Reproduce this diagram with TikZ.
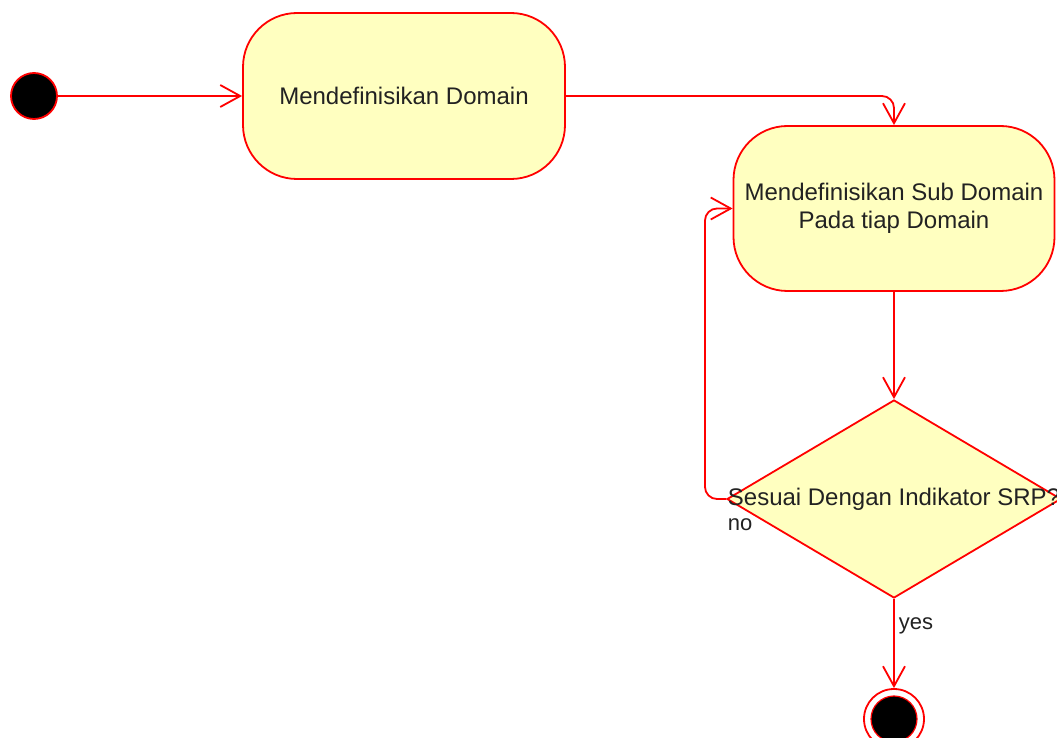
\documentclass[tikz,border=0pt]{standalone}
\usepackage{fontspec}
\setmainfont{Liberation Sans}
\usetikzlibrary{arrows.meta,shapes.geometric}
\definecolor{actfill}{HTML}{FFFFC0}
\definecolor{actline}{HTML}{FF0000}
\definecolor{txt}{HTML}{222222}
\begin{document}
\begin{tikzpicture}[x=0.5pt,y=-0.5pt,
  flow/.style={draw=actline,line width=0.9pt,-{Straight Barb[length=10pt,width=11pt,line width=0.9pt]}},
  action/.style={rectangle,draw=actline,fill=actfill,line width=0.9pt,rounded corners=27pt,
    inner sep=0pt,align=center,text=txt,font=\fontsize{12pt}{14pt}\selectfont},
  decision/.style={diamond,draw=actline,fill=actfill,line width=0.9pt,inner sep=0pt,
    minimum width=167pt,minimum height=99pt},
  guard/.style={text=txt,inner sep=0pt,font=\fontsize{11pt}{13pt}\selectfont},
  startnode/.style={circle,draw=actline,fill=black,line width=0.9pt,minimum size=23pt,inner sep=0pt}]
\clip (0,0) rectangle (1057,738);
\fill[white] (0,0) rectangle (1057,738);

% initial node
\node[startnode] (start) at (34,96) {};

% actions
\node[action,minimum width=161pt,minimum height=83pt] (b1) at (404,96) {Mendefinisikan Domain};
\node[action,minimum width=160.5pt,minimum height=82.5pt] (b2) at (894,208.5)
  {Mendefinisikan Sub Domain\\Pada tiap Domain};

% decision
\node[decision] (dec) at (894,499) {};
\node[text=txt,inner sep=0pt,font=\fontsize{12pt}{14pt}\selectfont] (dect) at (894,499) {Sesuai Dengan Indikator SRP?};

% final node
\node[circle,draw=actline,fill=white,line width=0.9pt,minimum size=30pt,inner sep=0pt] (fin) at (894,719) {};
\node[circle,draw=actline,fill=black,line width=0.6pt,minimum size=23pt,inner sep=0pt] (fincore) at (fin.center) {};

% connectors
\draw[flow] (start) -- (b1.west);
\draw[flow,rounded corners=6pt] (b1.east) -| (b2.north);
\draw[flow] (b2.south) -- (dec.north);
\coordinate (loopx) at (705,0);
\draw[flow,rounded corners=6pt] (dec.west) -- (dec.west -| loopx) -- (loopx |- b2.west) -- (b2.west);
\draw[flow] (dec.south) -- (fin.north);

% guards
\node[guard] (lno) at (740,525) {no};
\node[guard] (lyes) at (916,626) {yes};
\end{tikzpicture}
\end{document}
